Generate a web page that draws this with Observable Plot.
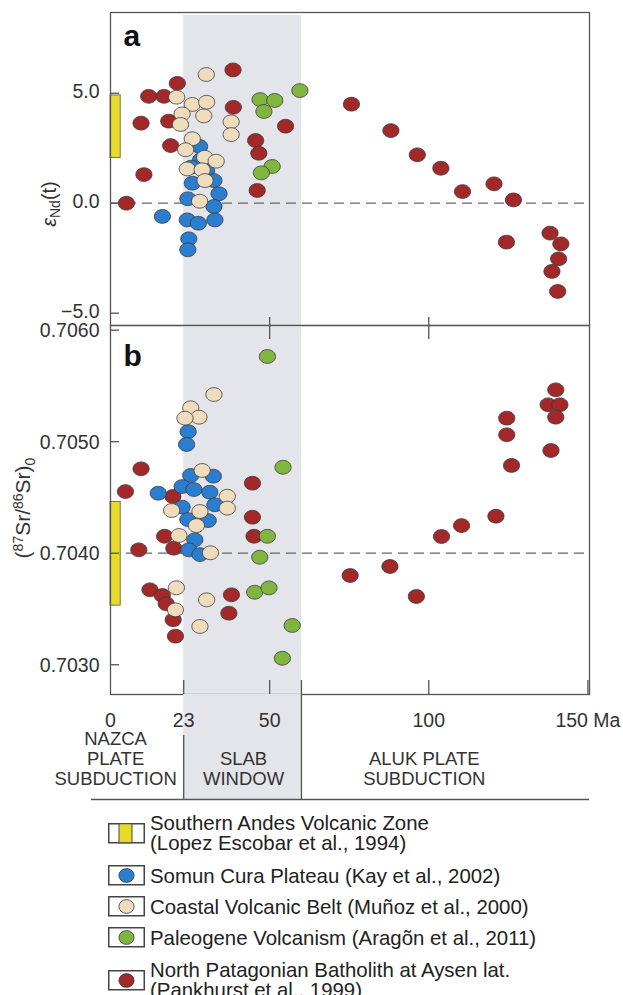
<!DOCTYPE html>
<html>
<head>
<meta charset="utf-8">
<script src="https://cdn.jsdelivr.net/npm/d3@7"></script>
<script src="https://cdn.jsdelivr.net/npm/@observablehq/plot@0.6"></script>
<style>
  body { margin: 0; background: #fff; font-family: "Liberation Sans", Arial, sans-serif; }
  #wrap { position: relative; width: 623px; height: 995px; overflow: hidden; background: #fff; }
  #wrap svg.chart { position: absolute; left: 0; overflow: visible; }
  .leg { position: absolute; left: 108px; display: flex; align-items: center; font-size: 20.4px; line-height: 20px; color: #222; white-space: nowrap; }
  .leg svg { flex: none; margin-right: 4px; }
</style>
</head>
<body>
<div id="wrap"></div>
<script>
// ---------- data ----------
const ageDomain = [0, 150.5];
const ndDomain = [-5.56, 8.67];
const srDomain = [0.702733, 0.706042];
const ndTicks = [-5, 0, 5];
const srTicks = [0.703, 0.704, 0.705, 0.706];
const ageTickLabels = [0, 23, 50, 100, 150];
const midTicks = [50, 100];
const bottomTicks = [23, 50, 60, 100, 150];
const ndRefLine = [0];
const srRefLine = [0.704];
const slabWindow = [{from: 23, to: 60}];
const svzNd = [{age0: 0, age1: 3.2, lo: 2.05, hi: 4.9}];
const svzSr = [{age0: 0, age1: 3.2, lo: 0.70353, hi: 0.70446}];
const regionLabels = [
  {age: 1.6, text: "NAZCA\nPLATE\nSUBDUCTION"},
  {age: 41.8, text: "SLAB\nWINDOW"},
  {age: 98.6, text: "ALUK PLATE\nSUBDUCTION"}
];
const regionDividers = [{age: 23, short: true}, {age: 60, short: false}];

// εNd(t) panel a  [age Ma, εNd]
const ndSomun = [[28.0,2.58],[28.3,1.97],[25.4,1.64],[30.2,1.45],[25.7,0.91],[32.5,1.03],[34.1,0.43],[24.3,0.2],[32.5,-0.15],[16.3,-0.6],[24.1,-0.76],[27.6,-0.91],[32.8,-0.76],[24.6,-1.62],[24.3,-2.12]];
const ndCoastal = [[30.1,5.85],[20.8,4.82],[25.7,4.49],[30.2,4.59],[22.5,4.06],[29.3,3.97],[22.0,3.58],[37.9,3.70],[37.9,3.12],[25.7,2.93],[23.6,2.43],[29.6,2.09],[33.2,1.91],[24.1,1.56],[28.8,1.52],[29.7,1.03],[28.0,0.09]];
const ndPaleogene = [[47.0,4.71],[51.6,4.67],[48.2,4.17],[59.5,5.12],[50.8,1.67],[47.4,1.38]];
const ndPatagonian = [[38.5,6.06],[21.0,5.45],[12.0,4.86],[16.8,4.86],[9.6,3.64],[18.3,3.73],[38.6,4.36],[55.0,3.50],[18.9,2.62],[45.6,2.85],[46.6,2.27],[10.5,1.30],[46.1,0.58],[5.0,0.0],[75.7,4.50],[88.1,3.30],[96.4,2.20],[103.8,1.59],[110.6,0.53],[120.5,0.88],[126.6,0.15],[124.4,-1.77],[138.1,-1.36],[141.5,-1.85],[140.8,-2.53],[138.7,-3.10],[140.5,-4.01]];

// (87Sr/86Sr)0 panel b  [age Ma, ratio]
const srSomun = [[24.4,0.70509],[23.9,0.704975],[25.2,0.704697],[32.3,0.704691],[22.5,0.704598],[26.2,0.704571],[31.2,0.704547],[15.0,0.704538],[32.8,0.704434],[22.5,0.704413],[24.3,0.704302],[30.7,0.704293],[26.5,0.70412],[24.6,0.70403],[28.1,0.703988]];
const srCoastal = [[32.5,0.705423],[25.2,0.705304],[27.8,0.70522],[23.4,0.705211],[28.8,0.704742],[36.7,0.704511],[36.7,0.704404],[19.2,0.704383],[28.1,0.704374],[27.0,0.704248],[21.5,0.704159],[31.4,0.704004],[20.7,0.70369],[30.2,0.703582],[20.4,0.703492],[28.1,0.703343]];
const srPaleogene = [[49.3,0.705764],[54.2,0.704771],[49.3,0.704152],[46.9,0.703964],[45.3,0.70365],[49.8,0.703689],[57.1,0.703352],[54.0,0.703058]];
const srPatagonian = [[9.6,0.704757],[4.7,0.704553],[19.6,0.704509],[44.6,0.704628],[44.6,0.704323],[45.1,0.704152],[17.0,0.704152],[19.9,0.704045],[8.9,0.70403],[12.4,0.703672],[16.3,0.703621],[17.5,0.703546],[19.7,0.703403],[20.4,0.703256],[38.0,0.703627],[37.2,0.703462],[75.3,0.7038],[87.8,0.703881],[96.1,0.703612],[104.0,0.70415],[110.3,0.704248],[121.1,0.704332],[124.5,0.705211],[124.5,0.705062],[126.0,0.704787],[139.9,0.705465],[137.5,0.705331],[141.2,0.705331],[139.9,0.70522],[138.4,0.704921]];

const legendItems = [
  {kind: "bar", lines: ["Southern Andes Volcanic Zone", "(Lopez Escobar et al., 1994)"]},
  {kind: "dot", key: "somun", lines: ["Somun Cura Plateau (Kay et al., 2002)"]},
  {kind: "dot", key: "coastal", lines: ["Coastal Volcanic Belt (Muñoz et al., 2000)"]},
  {kind: "dot", key: "paleogene", lines: ["Paleogene Volcanism (Aragõn et al., 2011)"]},
  {kind: "dot", key: "patagonian", lines: ["North Patagonian Batholith at Aysen lat.", "(Pankhurst et al., 1999)"]}
];

// ---------- styles ----------
const FONT = '"Liberation Sans", Arial, sans-serif';
const COLORS = {patagonian: "#a2282a", somun: "#2a7dcf", coastal: "#eedcbd", paleogene: "#80b640"};
const YELLOW = "#e6da2a";
const BAND = "#e4e5ea";
const FRAME = "#555";
const TXT = "#333";
const W = 623, ML = 110, MR = 34;
const TICKFONT = 19.5;

const ellipse = {
  draw(ctx, size) {
    const r = Math.sqrt(size / Math.PI), a = r * 1.08, b = r * 0.92, k = 0.5523;
    ctx.moveTo(a, 0);
    ctx.bezierCurveTo(a, b * k, a * k, b, 0, b);
    ctx.bezierCurveTo(-a * k, b, -a, b * k, -a, 0);
    ctx.bezierCurveTo(-a, -b * k, -a * k, -b, 0, -b);
    ctx.bezierCurveTo(a * k, -b, a, -b * k, a, 0);
    ctx.closePath();
  }
};

function dots(data, key) {
  return Plot.dot(data, {x: d => d[0], y: d => d[1], r: 7.5, symbol: ellipse,
    fill: COLORS[key], stroke: "#3a3a3a", strokeWidth: 0.8});
}
function groupDots(pat, som, coa, pal) {
  return [dots(pat, "patagonian"), dots(som, "somun"), dots(coa, "coastal"), dots(pal, "paleogene")];
}
function yTickLabels(ticks, fmt, dy = 0) {
  return Plot.text(ticks, {y: d => d, text: d => fmt(d), frameAnchor: "left", textAnchor: "end", dx: -11, dy,
    fontSize: TICKFONT, fill: TXT});
}
const baseStyle = {fontFamily: FONT, fontSize: TICKFONT + "px", color: TXT, overflow: "visible", background: "transparent"};

// ---------- panel a ----------
const chartA = Plot.plot({
  width: W, height: 325, marginTop: 12, marginBottom: 0, marginLeft: ML, marginRight: MR,
  x: {domain: ageDomain}, y: {domain: ndDomain},
  style: baseStyle,
  marks: [
    Plot.rect(slabWindow, {x1: "from", x2: "to", fill: BAND, insetTop: 3}),
    Plot.ruleY(ndRefLine, {stroke: "#666", strokeWidth: 1.2, strokeDasharray: "10,6"}),
    Plot.rect(svzNd, {x1: "age0", x2: "age1", y1: "lo", y2: "hi", fill: YELLOW, stroke: "#555", strokeWidth: 0.8}),
    ...groupDots(ndPatagonian, ndSomun, ndCoastal, ndPaleogene),
    Plot.frame({stroke: FRAME, strokeWidth: 1.3}),
    Plot.axisY(ndTicks, {tickSize: 9, dx: 9, fill: "none", stroke: FRAME, strokeWidth: 1.3, label: null}),
    yTickLabels(ndTicks, d3.format(".1f"), -1),
    Plot.axisX(midTicks, {anchor: "bottom", tickSize: 8, dy: -8, fill: "none", stroke: FRAME, strokeWidth: 1.3, label: null}),
    Plot.text(["a"], {text: d => d, frameAnchor: "top-left", dx: 13, dy: 12, lineAnchor: "top",
      fontSize: 30, fontWeight: "bold", fill: "#111"})
  ]
});

// ---------- panel b ----------
const chartB = Plot.plot({
  width: W, height: 369, marginTop: 0, marginBottom: 0, marginLeft: ML, marginRight: MR,
  x: {domain: ageDomain}, y: {domain: srDomain},
  style: baseStyle,
  marks: [
    Plot.rect(slabWindow, {x1: "from", x2: "to", fill: BAND}),
    Plot.ruleY(srRefLine, {stroke: "#666", strokeWidth: 1.2, strokeDasharray: "10,6"}),
    Plot.rect(svzSr, {x1: "age0", x2: "age1", y1: "lo", y2: "hi", fill: YELLOW, stroke: "#555", strokeWidth: 0.8}),
    ...groupDots(srPatagonian, srSomun, srCoastal, srPaleogene),
    Plot.frame({stroke: FRAME, strokeWidth: 1.3}),
    Plot.axisY(srTicks, {tickSize: 9, dx: 9, fill: "none", stroke: FRAME, strokeWidth: 1.3, label: null}),
    yTickLabels(srTicks, d3.format(".4f"), 1),
    Plot.axisX(midTicks, {anchor: "top", tickSize: 13, dy: 13, fill: "none", stroke: FRAME, strokeWidth: 1.3, label: null}),
    Plot.axisX(bottomTicks, {anchor: "bottom", tickSize: 14, dy: -14, fill: "none", stroke: FRAME, strokeWidth: 1.3, label: null}),
    Plot.text(["b"], {text: d => d, frameAnchor: "top-left", dx: 13, dy: 19, lineAnchor: "top",
      fontSize: 30, fontWeight: "bold", fill: "#111"})
  ]
});

// ---------- age labels + tectonic regimes ----------
const pxPerMa = (W - ML - MR) / (ageDomain[1] - ageDomain[0]);
const chartC = Plot.plot({
  width: W, height: 106, marginTop: 0, marginBottom: 1, marginLeft: 91, marginRight: MR,
  x: {domain: [ageDomain[0] - (ML - 91) / pxPerMa, ageDomain[1]], axis: null},
  y: {domain: [0, 1], axis: null},
  style: baseStyle,
  marks: [
    Plot.rect(slabWindow, {x1: "from", x2: "to", fill: BAND}),
    Plot.ruleX(regionDividers.filter(d => d.short), {x: "age", insetTop: 41, stroke: FRAME, strokeWidth: 1.3}),
    Plot.ruleX(regionDividers.filter(d => !d.short), {x: "age", stroke: FRAME, strokeWidth: 1.3}),
    Plot.ruleY([0], {stroke: FRAME, strokeWidth: 1.3}),
    Plot.text(ageTickLabels, {x: d => d, text: d => d === 150 ? "150 Ma" : String(d), frameAnchor: "top", dy: 19,
      fontSize: TICKFONT, fill: TXT}),
    Plot.text(regionLabels, {x: "age", text: "text", frameAnchor: "bottom", lineAnchor: "bottom", dy: -15,
      lineHeight: 1.08, fontSize: 18.5, fill: TXT})
  ]
});

// ---------- assemble ----------
const wrap = document.getElementById("wrap");
[[chartA, 0], [chartB, 325], [chartC, 694]].forEach(([c, top]) => {
  c.classList.add("chart");
  c.style.top = top + "px";
  wrap.appendChild(c);
});

// y-axis titles (real text with sub/superscripts)
{
  const t = d3.select(chartA).append("text")
    .attr("transform", "translate(56,204) rotate(-90)")
    .attr("text-anchor", "middle").attr("font-family", FONT).attr("font-size", 20).attr("fill", TXT);
  t.append("tspan").attr("font-style", "italic").text("ε");
  t.append("tspan").attr("font-size", 14).attr("dy", 4).text("Nd");
  t.append("tspan").attr("dy", -4).text("(t)");
}
{
  const t = d3.select(chartB).append("text")
    .attr("transform", "translate(30,183) rotate(-90)")
    .attr("text-anchor", "middle").attr("font-family", FONT).attr("font-size", 21).attr("fill", TXT);
  t.append("tspan").text("(");
  t.append("tspan").attr("font-size", 14).attr("dy", -7).text("87");
  t.append("tspan").attr("dy", 7).text("Sr/");
  t.append("tspan").attr("font-size", 14).attr("dy", -7).text("86");
  t.append("tspan").attr("dy", 7).text("Sr)");
  t.append("tspan").attr("font-size", 14).attr("dy", 5).text("0");
}

// ---------- legend ----------
const legendTops = [813, 865, 896, 927, 960];
legendItems.forEach((item, i) => {
  const div = document.createElement("div");
  div.className = "leg";
  div.style.top = legendTops[i] + "px";
  let sw;
  if (item.kind === "bar") {
    sw = `<svg width="38" height="21"><rect x="0.75" y="0.75" width="35.5" height="19" fill="#fff" stroke="#444" stroke-width="1.5"/>` +
         `<rect x="11" y="0.75" width="13" height="19" fill="${YELLOW}" stroke="#444" stroke-width="1"/></svg>`;
  } else {
    sw = `<svg width="38" height="21"><rect x="0.75" y="0.75" width="35.5" height="19" fill="#fff" stroke="#444" stroke-width="1.5"/>` +
         `<ellipse cx="18.5" cy="10.5" rx="7.6" ry="6.9" fill="${COLORS[item.key]}" stroke="#3a3a3a" stroke-width="0.8"/></svg>`;
  }
  div.innerHTML = sw + `<div>${item.lines.join("<br>")}</div>`;
  wrap.appendChild(div);
});
</script>
</body>
</html>
